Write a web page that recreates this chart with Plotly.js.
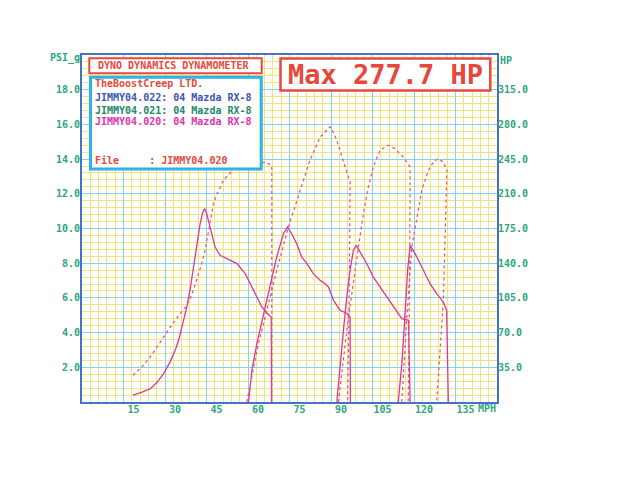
<!DOCTYPE html>
<html>
<head>
<meta charset="utf-8">
<script src="https://cdn.plot.ly/plotly-3.0.1.min.js"></script>
<style>html,body{margin:0;padding:0;background:#fff;}#chart{width:623px;height:480px;}</style>
</head>
<body>
<div id="chart"></div>
<script>
// ---- data (read from the dyno sheet) ----
// Boost pressure (PSI_g, left axis) per pull
const mphBoost1 = [18.4, 21.5, 24.7, 27.2, 29.5, 31.8, 33.7, 35.0, 36.1, 37.9, 39.2, 40.3, 41.6, 42.7, 43.6, 44.3, 45.0, 45.7, 46.8, 48.1, 49.9, 53.0, 56.0, 59.0, 62.0, 65.0, 67.0, 68.4, 68.5];
const boost1    = [0.39, 0.55, 0.77, 1.15, 1.64, 2.3, 2.98, 3.6, 4.32, 5.48, 6.6, 7.78, 9.1, 10.28, 10.9, 11.15, 10.9, 10.47, 9.7, 8.93, 8.46, 8.2, 7.98, 7.4, 6.44, 5.48, 5.1, 4.9, 0];
const mphBoost2 = [60.2, 61.4, 63.2, 65.6, 68.0, 70.4, 72.8, 74.3, 75.8, 77.6, 79.4, 81.3, 83.6, 86.1, 88.0, 89.1, 90.9, 93.3, 95.7, 96.9, 97.0];
const boost2    = [0, 1.83, 3.37, 5.1, 6.63, 8.36, 9.7, 10.09, 9.7, 9.13, 8.36, 7.98, 7.4, 7.01, 6.8, 6.63, 5.86, 5.29, 5.1, 4.9, 0];
const mphBoost3 = [92.1, 93.3, 94.5, 95.7, 96.9, 98.1, 99.1, 100.5, 102.9, 105.3, 107.7, 110.1, 112.5, 115.6, 118.0, 118.6];
const boost3    = [0, 2.2, 4.13, 6.05, 7.6, 8.74, 9.03, 8.65, 7.98, 7.2, 6.63, 6.05, 5.48, 4.8, 4.71, 0];
const mphBoost4 = [114.3, 115.6, 116.4, 117.1, 117.7, 118.6, 120.4, 122.2, 124.0, 125.8, 128.2, 130.6, 131.8, 132.4];
const boost4    = [0, 2.2, 4.13, 6.05, 7.6, 9.03, 8.55, 7.98, 7.4, 6.82, 6.25, 5.76, 5.28, 0];
// Power (HP, right axis) per pull
const mphHp1 = [18.4, 21.5, 24.7, 27.0, 29.5, 32.5, 35.5, 37.9, 39.8, 41.5, 43.0, 44.5, 46.3, 47.5, 48.8, 51.1, 53.5, 56.0, 60.0, 64.4, 67.0, 68.6, 68.6];
const hp1    = [26.9, 35, 45.4, 55, 65.6, 78, 89.2, 97.5, 109, 122.7, 137, 153, 180, 200, 210, 223.6, 231, 237, 240, 242, 241, 238.7, 0];
const mphHp2 = [59.6, 63.2, 66.8, 70.4, 74.6, 78.8, 82.4, 86.1, 89.7, 91.5, 93.3, 95.1, 96.9, 96.6, 96.0];
const hp2    = [0, 52, 92.5, 132.8, 176.5, 213.5, 243.8, 267.3, 277.7, 268, 253.8, 237, 222, 110, 0];
const mphHp3 = [92.7, 95.7, 98.7, 101.7, 103.5, 105.3, 107.7, 110.7, 113.1, 116.1, 118.6, 118.4, 117.9];
const hp3    = [0, 72.3, 132.8, 190, 216.9, 237, 253.9, 259, 255.6, 247, 237, 120, 0];
const mphHp4 = [115.6, 117.4, 119.2, 121.0, 122.8, 125.2, 127.0, 128.8, 130.6, 131.9, 131.6, 130.6, 128.2];
const hp4    = [0, 85.7, 156.3, 186.6, 213.5, 233.7, 242, 245.5, 242, 233.7, 203, 102, 0];

const mphTicks = [15, 30, 45, 60, 75, 90, 105, 120, 135];
const psiTicks = [2, 4, 6, 8, 10, 12, 14, 16, 18];
const hpTicks  = [35, 70, 105, 140, 175, 210, 245, 280, 315];
const headerText = "DYNO DYNAMICS DYNAMOMETER";
const legendLines = ["TheBoostCreep LTD.", "JIMMY04.022: 04 Mazda RX-8", "JIMMY04.021: 04 Mazda RX-8", "JIMMY04.020: 04 Mazda RX-8", "File     : JIMMY04.020"];
const maxText = "Max 277.7 HP";

// ---- styling ----
const MONO = "DejaVu Sans Mono, Liberation Mono, monospace";
const GREEN = "#2ea57a";
const RED = "#e8483a";
const FRAME = "#4472c4";
const BOOST_C = "#d8389c";
const HP_C = "#e4507e";

const boostSets = [[mphBoost1, boost1], [mphBoost2, boost2], [mphBoost3, boost3], [mphBoost4, boost4]];
const hpSets = [[mphHp1, hp1], [mphHp2, hp2], [mphHp3, hp3], [mphHp4, hp4]];
const traces = [];
hpSets.forEach(function (s, i) {
  traces.push({x: s[0], y: s[1], yaxis: 'y2', type: 'scatter', mode: 'lines', name: 'HP pull ' + (i + 1),
    line: {color: HP_C, width: 1.2, dash: 'dot'}, hoverinfo: 'skip'});
});
boostSets.forEach(function (s, i) {
  traces.push({x: s[0], y: s[1], type: 'scatter', mode: 'lines', name: 'Boost pull ' + (i + 1),
    line: {color: BOOST_C, width: 1.3}, hoverinfo: 'skip'});
});

const W = 415, H = 347, L = 82, T = 55;
function px(x) { return (x - L) / W; }
function py(y) { return (T + H - y) / H; }

const shapes = [
  {type: 'rect', xref: 'paper', yref: 'paper', x0: px(89.3), x1: px(261.7), y0: py(73.3), y1: py(58.3),
   line: {color: RED, width: 2}, fillcolor: '#ffffff', layer: 'above'},
  {type: 'rect', xref: 'paper', yref: 'paper', x0: px(90.5), x1: px(261.2), y0: py(169), y1: py(77.2),
   line: {color: '#2fb2e4', width: 3}, fillcolor: '#ffffff', layer: 'above'},
  {type: 'rect', xref: 'paper', yref: 'paper', x0: px(280.5), x1: px(490.3), y0: py(90.5), y1: py(58.5),
   line: {color: RED, width: 2.5}, fillcolor: '#ffffff', layer: 'above'}
];

const legendColors = [RED, "#3a56b0", "#22886a", "#e034ac", RED];
const legendY = [83.7, 97.3, 110, 121.7, 160];
const annotations = [
  {xref: 'paper', yref: 'paper', x: px(96), y: py(65.8), xanchor: 'left', yanchor: 'middle', showarrow: false,
   text: headerText, font: {family: MONO, size: 10, color: RED, weight: 'bold'}},
  {xref: 'paper', yref: 'paper', x: px(385), y: py(74.7), xanchor: 'center', yanchor: 'middle', showarrow: false,
   text: maxText, font: {family: MONO, size: 27, color: RED, weight: 'bold'}},
  {xref: 'paper', yref: 'paper', x: 0, y: 1, xanchor: 'right', yanchor: 'middle', xshift: 0, yshift: -3, showarrow: false,
   text: 'PSI_g', font: {family: MONO, size: 10, color: GREEN, weight: 'bold'}},
  {xref: 'paper', yref: 'paper', x: 1, y: 1, xanchor: 'left', yanchor: 'middle', xshift: 1, yshift: -5, showarrow: false,
   text: 'HP', font: {family: MONO, size: 10, color: GREEN, weight: 'bold'}},
  {xref: 'paper', yref: 'paper', x: 1, y: 0, xanchor: 'right', yanchor: 'middle', xshift: 1, yshift: -6, showarrow: false,
   text: 'MPH', font: {family: MONO, size: 10, color: GREEN, weight: 'bold'}}
];
legendLines.forEach(function (t, i) {
  annotations.push({xref: 'paper', yref: 'paper', x: px(93), y: py(legendY[i]), xanchor: 'left', yanchor: 'middle',
    showarrow: false, text: t.replace(/ /g, '&nbsp;'), font: {family: MONO, size: 10, color: legendColors[i], weight: 'bold'}});
});

const layout = {
  width: 623, height: 480,
  margin: {l: L, r: 623 - L - W, t: T, b: 480 - T - H, pad: 0},
  paper_bgcolor: '#ffffff', plot_bgcolor: '#ffffff',
  showlegend: false,
  xaxis: {range: [0, 150], tickvals: mphTicks, ticktext: mphTicks.map(String), ticks: '',
    showgrid: true, gridcolor: '#86d2ee', gridwidth: 1,
    minor: {dtick: 3, tick0: 0, showgrid: true, gridcolor: '#f1e47a', gridwidth: 1, ticks: ''},
    showline: true, linecolor: FRAME, linewidth: 2, mirror: true, zeroline: false,
    ticklabelshift: 10, ticklabelstandoff: -3,
    tickfont: {family: MONO, size: 10, color: GREEN, weight: 'bold'}},
  yaxis: {range: [0, 20], tickvals: psiTicks, ticktext: psiTicks.map(function (v) { return v.toFixed(1); }), ticks: '',
    showgrid: true, gridcolor: '#86d2ee', gridwidth: 1,
    minor: {dtick: 0.4, tick0: 0, showgrid: true, gridcolor: '#f1e47a', gridwidth: 1, ticks: ''},
    showline: true, linecolor: FRAME, linewidth: 2, mirror: true, zeroline: false,
    ticklabelstandoff: -2,
    tickfont: {family: MONO, size: 10, color: GREEN, weight: 'bold'}},
  yaxis2: {range: [0, 350], overlaying: 'y', side: 'right', tickvals: hpTicks,
    ticktext: hpTicks.map(function (v) { return v.toFixed(1); }), ticks: '', showgrid: false, zeroline: false,
    showline: false, ticklabelstandoff: 0,
    tickfont: {family: MONO, size: 10, color: GREEN, weight: 'bold'}},
  shapes: shapes,
  annotations: annotations
};

Plotly.newPlot('chart', traces, layout, {staticPlot: true, displayModeBar: false});
</script>
</body>
</html>
